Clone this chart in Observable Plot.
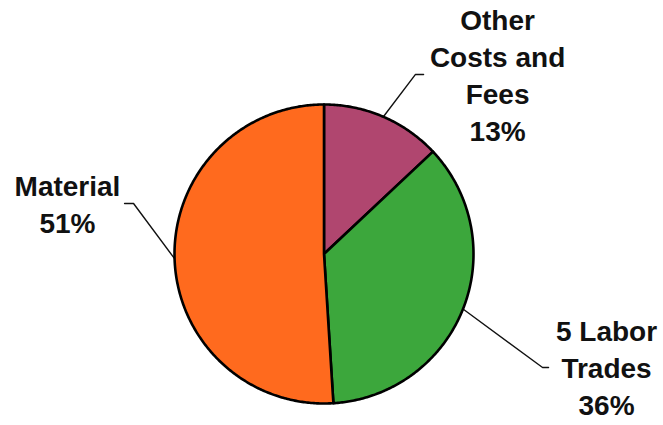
<!DOCTYPE html>
<html>
<head>
<meta charset="utf-8">
<script src="https://cdn.jsdelivr.net/npm/d3@7"></script>
<script src="https://cdn.jsdelivr.net/npm/@observablehq/plot@0.6"></script>
<style>
  html, body { margin: 0; padding: 0; background: #fff; }
  #chart svg { display: block; }
</style>
</head>
<body>
<div id="chart"></div>
<script>
// ---- data ----
const categories = ["Other Costs and Fees", "5 Labor Trades", "Material"];
const labelTexts = ["Other\nCosts and\nFees\n13%", "5 Labor\nTrades\n36%", "Material\n51%"];
const shares = [13, 36, 51];

// ---- styles / layout ----
const colors = ["#B0466F", "#3CA73C", "#FF6A1E"];
// label anchor (data units, pie radius = 1), leader elbow and end
const labelLayout = [
  {tx: 1.161, ty: 1.676, ex: 0.612, ey: 1.201, hx: 0.666},
  {tx: 1.890, ty: -0.404, ex: 1.462, ey: -0.759, hx: 1.502},
  {tx: -1.716, ty: 0.565, ex: -1.274, ey: 0.338, hx: -1.334}
];

const arcs = d3.pie().sort(null).value(d => d)(shares);

// slice outlines in unit-circle coordinates
const slicePts = [];
arcs.forEach((a, i) => {
  const cat = categories[i];
  slicePts.push({cat, x: 0, y: 0});
  const n = Math.max(8, Math.ceil((a.endAngle - a.startAngle) / 0.01));
  for (let k = 0; k <= n; k++) {
    const t = a.startAngle + (a.endAngle - a.startAngle) * k / n;
    slicePts.push({cat, x: Math.sin(t), y: Math.cos(t)});
  }
});

// leader lines
const leaderPts = [];
arcs.forEach((a, i) => {
  const cat = categories[i];
  const m = (a.startAngle + a.endAngle) / 2;
  const L = labelLayout[i];
  leaderPts.push({cat, x: Math.sin(m), y: Math.cos(m)});
  leaderPts.push({cat, x: L.ex, y: L.ey});
  leaderPts.push({cat, x: L.hx, y: L.ey});
});

const labels = categories.map((cat, i) => ({cat, text: labelTexts[i], x: labelLayout[i].tx, y: labelLayout[i].ty}));

const chart = Plot.plot({
  width: 663,
  height: 425,
  margin: 0,
  x: {domain: [-1, 1], range: [174, 473], axis: null},
  y: {domain: [-1, 1], range: [403, 104], axis: null},
  color: {domain: categories, range: colors},
  style: {fontFamily: "'Liberation Sans', Arial, sans-serif", background: "#fff"},
  marks: [
    Plot.line(leaderPts, {x: "x", y: "y", z: "cat", stroke: "#111", strokeWidth: 1.4}),
    Plot.line(slicePts, {x: "x", y: "y", z: "cat", fill: "cat", stroke: "#000", strokeWidth: 2.6, strokeLinejoin: "round", curve: "linear-closed"}),
    Plot.text(labels, {x: "x", y: "y", text: "text", lineAnchor: "top", textAnchor: "middle", lineHeight: 1.32, fontSize: 28, fontWeight: "bold", fill: "#111"})
  ]
});
document.getElementById("chart").appendChild(chart);
</script>
</body>
</html>
